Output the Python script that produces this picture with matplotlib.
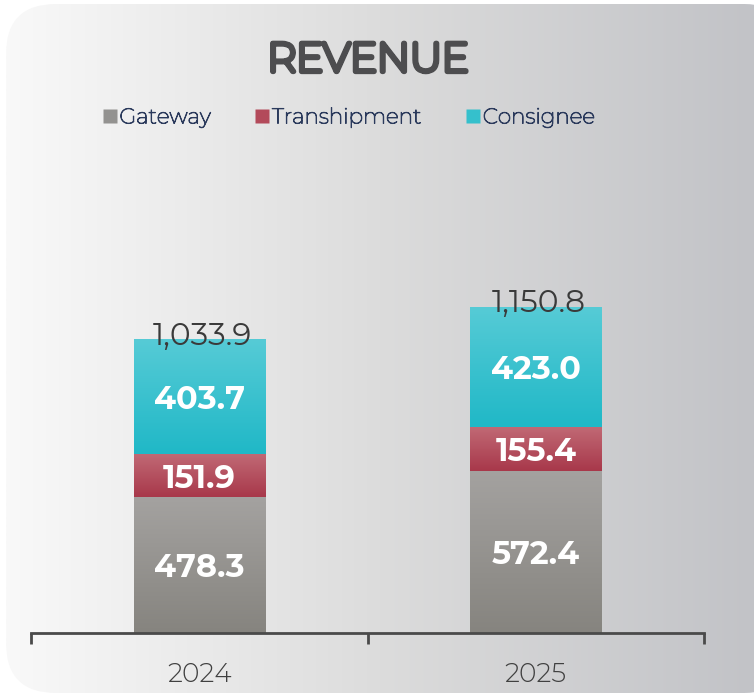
import numpy as np
import matplotlib
matplotlib.use("Agg")
import matplotlib.pyplot as plt
from matplotlib.patches import FancyBboxPatch
from matplotlib.colors import LinearSegmentedColormap
from matplotlib.lines import Line2D
import matplotlib.patheffects as pe
from matplotlib.transforms import offset_copy

years = ["2024", "2025"]
gateway = [478.3, 572.4]
transhipment = [151.9, 155.4]
consignee = [403.7, 423.0]
totals = [1033.9, 1150.8]
series_names = ["Gateway", "Transhipment", "Consignee"]

# gradient colours (top, bottom)
grad = {
    "Gateway": ("#a4a2a0", "#86847f"),
    "Transhipment": ("#c16a76", "#a8384a"),
    "Consignee": ("#56cbd6", "#20b8c7"),
}
legend_colors = {"Gateway": "#939290", "Transhipment": "#b34a5a", "Consignee": "#35c0cc"}

NUMFONT = ["Montserrat Alternates", "DejaVu Sans"]
TXTFONT = ["Montserrat", "DejaVu Sans"]
plt.rcParams['font.family'] = NUMFONT

W, H = 754, 695
fig = plt.figure(figsize=(W / 100, H / 100), dpi=100)

# background rounded rectangle with horizontal gradient
bg = fig.add_axes([0, 0, 1, 1])
bg.set_xlim(0, W)
bg.set_ylim(H, 0)
bg.axis("off")
bgcmap = LinearSegmentedColormap.from_list("bg", ["#f9f9f9", "#dcdcdc", "#c2c3c7"])
img = bg.imshow(np.linspace(0, 1, 256)[None, :], cmap=bgcmap, aspect="auto",
                extent=[6, W, H - 2, 4], zorder=0)
rr = FancyBboxPatch((6 + 50, 4 + 50), W - 6 - 100 + 40, H - 6 - 100,
                    boxstyle="round,pad=50", transform=bg.transData,
                    facecolor="none", edgecolor="none")
bg.add_patch(rr)
img.set_clip_path(rr)

# main axes
ax_left, ax_right = 31 / W, 704 / W
ax_bottom = (H - 633) / H
ylim_top = 1300
ppu = 293 / 1033.9
ax_h_px = ylim_top * ppu
ax = fig.add_axes([ax_left, ax_bottom, ax_right - ax_left, ax_h_px / H])
ax.patch.set_alpha(0)
x = np.arange(len(years))
width = 0.39

def grad_bar(xs, heights, bottoms, name):
    bars = ax.bar(xs, heights, width, bottom=bottoms, color="none", edgecolor="none", zorder=2)
    top, bot = grad[name]
    cmap = LinearSegmentedColormap.from_list(name, [bot, top])
    for b in bars:
        x0, y0, w, h = b.get_x(), b.get_y(), b.get_width(), b.get_height()
        ax.imshow(np.linspace(0, 1, 128)[:, None], cmap=cmap, origin="lower",
                  extent=[x0, x0 + w, y0, y0 + h], aspect="auto", zorder=1)
    return bars

b1 = grad_bar(x, gateway, [0, 0], "Gateway")
bott2 = np.array(gateway)
b2 = grad_bar(x, transhipment, bott2, "Transhipment")
bott3 = bott2 + np.array(transhipment)
b3 = grad_bar(x, consignee, bott3, "Consignee")
ax.set_xlim(-0.5, 1.5)
ax.set_ylim(0, ylim_top)

val_tr = offset_copy(ax.transData, fig=fig, x=0, y=-2.5, units="dots")
for vals, bots in [(gateway, np.zeros(2)), (transhipment, bott2), (consignee, bott3)]:
    for xi, v, bo in zip(x, vals, bots):
        ax.text(xi, bo + v / 2, f"{v:.1f}", ha="center", va="center", color="white",
                fontsize=23, fontweight="bold", zorder=3, transform=val_tr)

tot_tr = offset_copy(ax.transData, fig=fig, x=3.5, y=0, units="dots")
for xi, t in zip(x, totals):
    ax.text(xi, t + 14, f"{t:,.1f}", ha="center", va="center", color="#3a3a3a",
            fontsize=22.5, fontweight=400, zorder=3, transform=tot_tr)

for s in ["top", "right", "left"]:
    ax.spines[s].set_visible(False)
ax.spines["bottom"].set_color("#4a4a4a")
ax.spines["bottom"].set_linewidth(2)
ax.set_yticks([])
ax.set_xticks([-0.5, 0.5, 1.5])
ax.set_xticklabels([])
ax.tick_params(axis="x", length=8, width=2, color="#4a4a4a")
for xi, yr in zip(x, years):
    ax.text(xi, -0.112, yr, transform=ax.get_xaxis_transform(), ha="center", va="center",
            fontsize=19, fontweight=300, color="#404040")

# title (thin Montserrat thickened with a stroke)
fig.text(368 / W, 1 - 60.5 / H, "REVENUE", ha="center", va="center", fontsize=29,
         family=TXTFONT, color="#4d4d4f",
         path_effects=[pe.withStroke(linewidth=3.8, foreground="#4d4d4f")])

handles = [Line2D([], [], marker="s", linestyle="none", markersize=10,
                  markerfacecolor=legend_colors[n], markeredgecolor="none") for n in series_names]
leg = fig.legend(handles, series_names, loc="center", bbox_to_anchor=(348 / W, 1 - 117 / H),
                 ncol=3, frameon=False, handletextpad=0.05, columnspacing=2.0,
                 handlelength=0.8, prop={"size": 15.5, "family": TXTFONT}, labelcolor="#2b3a5c")
for t in leg.get_texts():
    t.set_path_effects([pe.withStroke(linewidth=0.7, foreground="#2b3a5c")])

fig.savefig("out.png", dpi=100, facecolor="white")
